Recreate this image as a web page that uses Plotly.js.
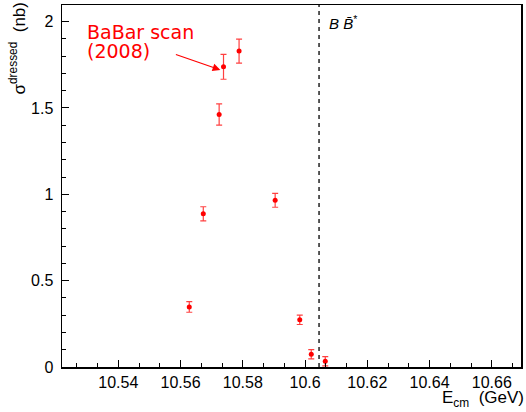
<!DOCTYPE html>
<html>
<head>
<meta charset="utf-8">
<script src="https://cdn.plot.ly/plotly-3.0.1.min.js"></script>
<style>
  html, body { margin: 0; padding: 0; background: #fff; }
  #chart { width: 526px; height: 412px; }
</style>
</head>
<body>
<div id="chart"></div>
<script>
// BaBar energy scan (2008): dressed cross section vs. centre-of-mass energy
const ecm      = [10.5628, 10.5673, 10.5724, 10.5738, 10.5788, 10.5904, 10.5983, 10.6020, 10.6065];
const sigma    = [0.348, 0.887, 1.462, 1.738, 1.829, 0.965, 0.273, 0.074, 0.033];
const sigmaErr = [0.031, 0.041, 0.061, 0.072, 0.069, 0.040, 0.027, 0.027, 0.027];

// B B̄* production threshold (GeV)
const thresholdBBstar = 10.6045;

const xTicks = [10.54, 10.56, 10.58, 10.6, 10.62, 10.64, 10.66];
const xTickText = ['10.54', '10.56', '10.58', '10.6', '10.62', '10.64', '10.66'];
const yTicks = [0, 0.5, 1, 1.5, 2];
const yTickText = ['0', '0.5', '1', '1.5', '2'];

const red = '#ff0000';
const tickFont = { family: 'Liberation Sans, Arial, sans-serif', size: 16, color: '#000' };

const trace = {
  x: ecm,
  y: sigma,
  type: 'scatter',
  mode: 'markers',
  marker: { color: red, size: 5, symbol: 'circle' },
  error_y: { type: 'data', array: sigmaErr, visible: true, color: 'rgba(255,0,0,0.75)', thickness: 1.2, width: 3 },
  hoverinfo: 'x+y'
};

const layout = {
  width: 526,
  height: 412,
  margin: { l: 62, r: 5, t: 5, b: 45 },
  paper_bgcolor: '#fff',
  plot_bgcolor: '#fff',
  showlegend: false,
  xaxis: {
    range: [10.5219, 10.6694],
    tickmode: 'array',
    tickvals: xTicks,
    ticktext: xTickText,
    ticks: 'inside',
    ticklen: 7,
    tickwidth: 1,
    tickcolor: '#000',
    minor: { dtick: 0.02 / 3, tick0: 10.54, ticks: 'inside', ticklen: 4, tickcolor: '#000', showgrid: false },
    showgrid: false,
    zeroline: false,
    showline: true,
    linecolor: '#000',
    linewidth: 1.5,
    mirror: true,
    tickfont: tickFont
  },
  yaxis: {
    range: [0, 2.096],
    tickmode: 'array',
    tickvals: yTicks,
    ticktext: yTickText,
    ticks: 'inside',
    ticklen: 7,
    tickwidth: 1,
    tickcolor: '#000',
    minor: { dtick: 0.1, tick0: 0, ticks: 'inside', ticklen: 4, tickcolor: '#000', showgrid: false },
    showgrid: false,
    zeroline: false,
    showline: true,
    linecolor: '#000',
    linewidth: 1.5,
    mirror: true,
    tickfont: tickFont,
    ticklabelstandoff: 4
  },
  shapes: [
    {
      type: 'line', xref: 'x', yref: 'paper',
      x0: thresholdBBstar, x1: thresholdBBstar, y0: 0, y1: 1,
      line: { color: '#000', width: 1.3, dash: '4px,4px' }
    }
  ],
  annotations: [
    {
      text: '<i>B B\u0304</i><sup>*</sup>',
      xref: 'x', yref: 'paper', x: thresholdBBstar, y: 1,
      xanchor: 'left', yanchor: 'top', xshift: 8, yshift: -6,
      showarrow: false,
      font: { family: 'Liberation Sans, Arial, sans-serif', size: 15, color: '#000' }
    },
    {
      text: 'BaBar scan',
      xref: 'paper', yref: 'paper', x: 0, y: 1,
      xanchor: 'left', yanchor: 'top', xshift: 23, yshift: -14,
      showarrow: false,
      font: { family: 'DejaVu Sans, sans-serif', size: 19, color: red }
    },
    {
      text: '(2008)',
      xref: 'paper', yref: 'paper', x: 0, y: 1,
      xanchor: 'left', yanchor: 'top', xshift: 23, yshift: -33,
      showarrow: false,
      font: { family: 'DejaVu Sans, sans-serif', size: 19, color: red }
    },
    {
      // arrow pointing at the scan point near 10.574 GeV
      text: '',
      xref: 'x', yref: 'y', x: 10.5728, y: 1.72,
      ax: -46, ay: -16, axref: 'pixel', ayref: 'pixel',
      showarrow: true, arrowhead: 2, arrowsize: 1.3, arrowwidth: 1.2, arrowcolor: red
    },
    {
      text: '\u03c3<sup>dressed</sup>  (nb)',
      xref: 'paper', yref: 'paper', x: 0, y: 1,
      xanchor: 'left', yanchor: 'top', xshift: -58, yshift: 5,
      textangle: -90,
      showarrow: false,
      font: { family: 'Liberation Sans, Arial, sans-serif', size: 17, color: '#000' }
    },
    {
      text: 'E<sub>cm</sub>  (GeV)',
      xref: 'paper', yref: 'paper', x: 1, y: 0,
      xanchor: 'right', yanchor: 'top', xshift: 5, yshift: -19,
      showarrow: false,
      font: { family: 'Liberation Sans, Arial, sans-serif', size: 17, color: '#000' }
    }
  ]
};

Plotly.newPlot('chart', [trace], layout, { staticPlot: true, displayModeBar: false });
</script>
</body>
</html>
